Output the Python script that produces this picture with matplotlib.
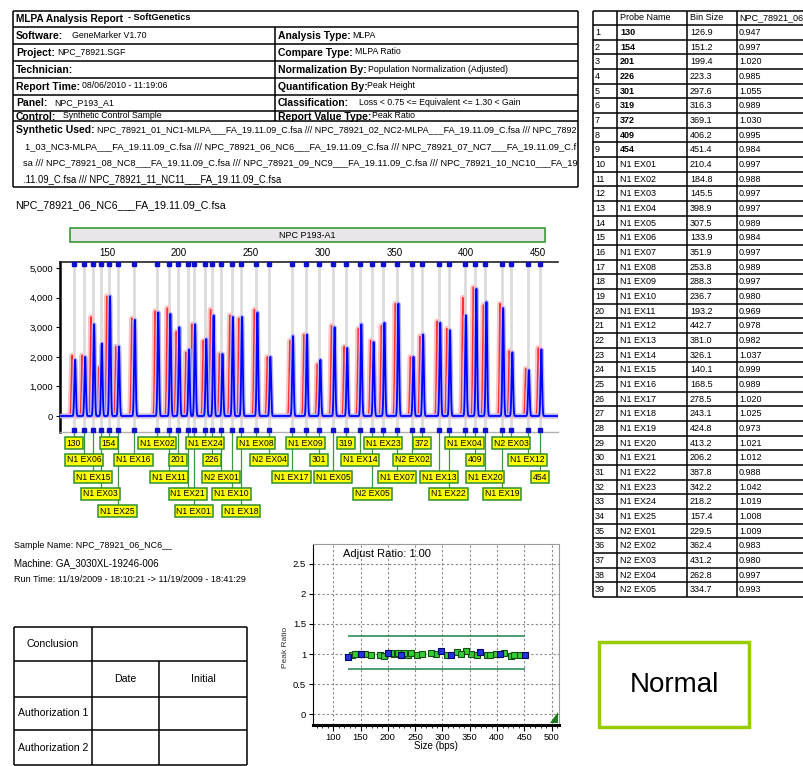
import numpy as np
import matplotlib
matplotlib.use("Agg")
import matplotlib.pyplot as plt
from matplotlib import font_manager, transforms, patheffects
from matplotlib.patches import Rectangle, Polygon

# ---------------- data ----------------
probe_names = ['130', '154', '201', '226', '301', '319', '372', '409', '454',
               'N1 EX01', 'N1 EX02', 'N1 EX03', 'N1 EX04', 'N1 EX05', 'N1 EX06',
               'N1 EX07', 'N1 EX08', 'N1 EX09', 'N1 EX10', 'N1 EX11', 'N1 EX12',
               'N1 EX13', 'N1 EX14', 'N1 EX15', 'N1 EX16', 'N1 EX17', 'N1 EX18',
               'N1 EX19', 'N1 EX20', 'N1 EX21', 'N1 EX22', 'N1 EX23', 'N1 EX24',
               'N1 EX25', 'N2 EX01', 'N2 EX02', 'N2 EX03', 'N2 EX04', 'N2 EX05']
bin_sizes = [126.9, 151.2, 199.4, 223.3, 297.6, 316.3, 369.1, 406.2, 451.4,
             210.4, 184.8, 145.5, 398.9, 307.5, 133.9, 351.9, 253.8, 288.3, 236.7,
             193.2, 442.7, 381.0, 326.1, 140.1, 168.5, 278.5, 243.1, 424.8, 413.2,
             206.2, 387.8, 342.2, 218.2, 157.4, 229.5, 362.4, 431.2, 262.8, 334.7]
peak_ratios = [0.947, 0.997, 1.020, 0.985, 1.055, 0.989, 1.030, 0.995, 0.984,
               0.997, 0.988, 0.997, 0.997, 0.989, 0.984, 0.997, 0.989, 0.997, 0.980,
               0.969, 0.978, 0.982, 1.037, 0.999, 0.989, 1.020, 1.025, 0.973, 1.021,
               1.012, 0.988, 1.042, 1.019, 1.008, 1.009, 0.983, 0.980, 0.997, 0.993]
# sample (blue) and synthetic control (red) peak heights, RFU
sample_heights = [1900, 4050, 3000, 3400, 1900, 2300, 2750, 4300, 2250,
                  3100, 3500, 2450, 3400, 3000, 2000, 3800, 3500, 2750, 3350,
                  3450, 1550, 3150, 3100, 3100, 3250, 2700, 3350, 3650, 3850,
                  2250, 2900, 3150, 2600, 2350, 2100, 2000, 2150, 2000, 2500]
control_heights = [2050, 4050, 2850, 3600, 1750, 2350, 2700, 4350, 2300,
                   3100, 3550, 1650, 4000, 3050, 2050, 3800, 3600, 2750, 3400,
                   3650, 1600, 3200, 2950, 3350, 3300, 2550, 3300, 3800, 3750,
                   2150, 2950, 3050, 2550, 2350, 2100, 2000, 2200, 2000, 2550]
label_rows = [0, 0, 1, 1, 1, 0, 0, 1, 2,
              4, 0, 3, 0, 2, 1, 2, 0, 0, 3, 2, 1, 2, 1, 2, 1, 2, 4, 3, 2, 3, 3, 0, 0, 4,
              2, 1, 0, 1, 3]
is_reference = [n.isdigit() for n in probe_names]

eph_yticks = [0, 1000, 2000, 3000, 4000, 5000]
eph_xticks = [150, 200, 250, 300, 350, 400, 450]
ratio_xticks = [100, 150, 200, 250, 300, 350, 400, 450, 500]
ratio_yticks = [0, 0.5, 1, 1.5, 2, 2.5]
gain_limit, loss_limit = 1.30, 0.75

# ---------------- fonts ----------------
installed = {f.name for f in font_manager.fontManager.ttflist}
NARROW = 'Liberation Sans Narrow' if 'Liberation Sans Narrow' in installed else 'Liberation Sans'
SANS = 'Liberation Sans'
plt.rcParams['font.family'] = [SANS, 'DejaVu Sans']

fig = plt.figure(figsize=(8.04, 7.66), dpi=100)
ax0 = fig.add_axes([0, 0, 1, 1])
ax0.set_xlim(0, 804)
ax0.set_ylim(766, 0)
ax0.axis('off')
R = fig.canvas.get_renderer()


def put(x, y, s, size=7, width=None, family=None, weight='normal', ha='left',
        va='center', ax=None, **kw):
    ax = ax or ax0
    t = ax.text(x, y, s, fontsize=size, family=family or NARROW, fontweight=weight,
                ha=ha, va=va, **kw)
    if width:
        w = t.get_window_extent(R).width
        if w > 0:
            t.set_fontsize(size * width / w)
    return t


def hl(y, x0, x1, lw=1.0, color='k'):
    ax0.plot([x0, x1], [y, y], color=color, lw=lw, solid_capstyle='butt')


def vl(x, y0, y1, lw=1.0, color='k'):
    ax0.plot([x, x], [y0, y1], color=color, lw=lw, solid_capstyle='butt')


def fx(px):
    return px / 804.0


def fy(py):
    return 1 - py / 766.0


# ---------------- header table ----------------
HX0, HXM, HX1 = 13, 275, 578
hlines = [11, 27, 44, 61, 78, 95, 111, 121, 187]
for y in hlines:
    hl(y, HX0, HX1, lw=1.1)
vl(HX0, 11, 187, lw=1.1)
vl(HX1, 11, 187, lw=1.1)
vl(HXM, 27, 121, lw=1.1)

put(16, 19, 'MLPA Analysis Report', 7.5, width=107, weight='bold')
put(128, 18, '- SoftGenetics', 7, width=62, weight='bold')

lab = put(278, 70, 'Normalization By:', 7, width=88, weight='bold')
LAB_FS = lab.get_fontsize()
val = put(368, 70, 'Population Normalization (Adjusted)', 7, width=140)
VAL_FS = val.get_fontsize()

left_rows = [('Software:', 'GeneMarker V1.70', 72), ('Project:', 'NPC_78921.SGF', 57),
             ('Technician:', '', 0), ('Report Time:', '08/06/2010 - 11:19:06', 82),
             ('Panel:', 'NPC_P193_A1', 54), ('Control:', 'Synthetic Control Sample', 63)]
right_rows = [('Analysis Type:', 'MLPA', 352), ('Compare Type:', 'MLPA Ratio', 355),
              (None, None, 0), ('Quantification By:', 'Peak Height', 367),
              ('Classification:', 'Loss < 0.75 <= Equivalent <= 1.30 < Gain', 359),
              ('Report Value Type:', 'Peak Ratio', 372)]
for i in range(6):
    yc = (hlines[i + 1] + hlines[i + 2]) / 2 + 0.5
    if i == 5:
        yc = 117
    l, v, xv = left_rows[i]
    put(16, yc, l, LAB_FS, weight='bold')
    if v:
        put(xv, yc - 1, v, VAL_FS)
    l, v, xv = right_rows[i]
    if l:
        put(278, yc, l, LAB_FS, weight='bold')
        put(xv, yc - 1, v, VAL_FS)

put(16, 130, 'Synthetic Used:', LAB_FS, weight='bold')
syn_lines = ['NPC_78921_01_NC1-MLPA___FA_19.11.09_C.fsa /// NPC_78921_02_NC2-MLPA___FA_19.11.09_C.fsa /// NPC_7892',
             '1_03_NC3-MLPA___FA_19.11.09_C.fsa /// NPC_78921_06_NC6___FA_19.11.09_C.fsa /// NPC_78921_07_NC7___FA_19.11.09_C.f',
             'sa /// NPC_78921_08_NC8___FA_19.11.09_C.fsa /// NPC_78921_09_NC9___FA_19.11.09_C.fsa /// NPC_78921_10_NC10___FA_19',
             '.11.09_C.fsa /// NPC_78921_11_NC11___FA_19.11.09_C.fsa']
syn_geom = [(97, 130, 478), (25, 147, 550), (23, 163, 552), (23, 179, 258)]
for s, (x, y, w) in zip(syn_lines, syn_geom):
    put(x, y, s, 7, width=w)

# ---------------- right probe table ----------------
TX = [593, 617, 687, 737]
TT, TH, TB = 11, 25, 597
rh = (TB - TH) / len(probe_names)
hl(TT, TX[0], 804, lw=1.1)
hl(TH, TX[0], 804, lw=1.1)
for i in range(len(probe_names)):
    hl(TH + (i + 1) * rh, TX[0], 804, lw=1.1)
for x in TX:
    vl(x, TT, TB, lw=1.1)
TFS = 6.5
put(620, 18, 'Probe Name', TFS)
put(690, 18, 'Bin Size', TFS)
put(739, 18, 'NPC_78921_06', TFS)
for i, (n, b, r) in enumerate(zip(probe_names, bin_sizes, peak_ratios)):
    yc = TH + (i + 0.5) * rh
    put(595, yc, str(i + 1), TFS)
    put(620, yc, n, TFS, weight='bold' if n.isdigit() else 'normal')
    put(690, yc, f'{b:.1f}', TFS)
    put(739, yc, f'{r:.3f}', TFS)

# ---------------- electropherogram ----------------
put(15, 205, 'NPC_78921_06_NC6___FA_19.11.09_C.fsa', 8, width=212, family=SANS)
ax0.add_patch(Rectangle((70, 228), 475, 14, fc='#e8e6e8', ec='#3a9a3a', lw=1.2))
put(307, 235, 'NPC P193-A1', 6.5, family=SANS, ha='center')

EL, ER, ET, EB = 60, 558, 262, 432
ax1 = fig.add_axes([fx(EL), fy(EB), (ER - EL) / 804, (EB - ET) / 766])
ax1.set_xlim(117.3, 463.9)
ax1.set_ylim(-540, 5203)
ax1.vlines(bin_sizes, -540, 5203, color='#dcdcdc', lw=2.0, zorder=0)
xs = np.linspace(117.3, 463.9, 9000)
sig = 0.5
red = np.zeros_like(xs)
blue = np.zeros_like(xs)
for b, hs, hc in zip(bin_sizes, sample_heights, control_heights):
    red += hc * np.exp(-0.5 * ((xs - (b - 1.2)) / sig) ** 2)
    blue += hs * np.exp(-0.5 * ((xs - (b + 0.9)) / sig) ** 2)
ax1.plot(xs, red, color='#ff3030', lw=1.0, zorder=2,
         path_effects=[patheffects.Stroke(linewidth=4, foreground='#ffc4c4'), patheffects.Normal()])
ax1.plot(xs, blue, color='#0000ff', lw=1.3, zorder=3,
         path_effects=[patheffects.Stroke(linewidth=3.2, foreground='#b8b8ff'), patheffects.Normal()])
trx = transforms.blended_transform_factory(ax1.transData, ax1.transAxes)
ax1.plot(bin_sizes, [0.988] * len(bin_sizes), 's', ms=3.4, color='#1010d0', transform=trx,
         clip_on=False, zorder=5)
ax1.plot(bin_sizes, [0.012] * len(bin_sizes), 's', ms=3.4, color='#1010d0', transform=trx,
         clip_on=False, zorder=5)
ax1.set_yticks(eph_yticks)
ax1.set_yticklabels([f'{v:,}' for v in eph_yticks], fontsize=6.8, family=SANS)
ax1.set_xticks(eph_xticks)
ax1.xaxis.set_ticks_position('top')
ax1.set_xticklabels([str(v) for v in eph_xticks], fontsize=7, family=SANS)
ax1.tick_params(axis='x', length=0, pad=3)
ax1.tick_params(axis='y', length=3, width=0.8, pad=2)
ax1.spines['right'].set_visible(False)
ax1.spines['left'].set_linewidth(1.8)
ax1.spines['top'].set_linewidth(1.2)
ax1.spines['top'].set_color('#222222')
ax1.spines['bottom'].set_color('#b0b0b0')
ax1.spines['bottom'].set_linewidth(1.0)
ax1.set_facecolor('white')

# probe labels below
trl = transforms.blended_transform_factory(ax1.transData, ax0.transData)
row_y = [443, 460, 477, 494, 511]
for n, b, r in zip(probe_names, bin_sizes, label_rows):
    yc = row_y[r]
    ax0.plot([b, b], [EB, yc - 6], color='#3c963c', lw=0.9, transform=trl, clip_on=False, zorder=1)
    ax0.text(b, yc, n, transform=trl, ha='center', va='center', fontsize=6.2, family=NARROW,
             zorder=3,
             bbox=dict(boxstyle='square,pad=0.22', fc='#ffff00', ec='#2f8f2f', lw=1.1))

# ---------------- sample info ----------------
put(14, 546, 'Sample Name: NPC_78921_06_NC6__', 7, width=156)
put(14, 563, 'Machine: GA_3030XL-19246-006', 7, width=145)
put(14, 580, 'Run Time: 11/19/2009 - 18:10:21 -> 11/19/2009 - 18:41:29', 7, width=233)

# ---------------- conclusion table ----------------
CX = [14, 92, 159, 247]
CY = [627, 661, 697, 730, 765]
for y in CY:
    hl(y, CX[0], CX[3], lw=1.1)
vl(CX[0], CY[0], CY[4], lw=1.1)
vl(CX[3], CY[0], CY[4], lw=1.1)
vl(CX[1], CY[0], CY[4], lw=1.1)
vl(CX[2], CY[1], CY[4], lw=1.1)
cf = put((CX[0] + CX[1]) / 2, 713, 'Authorization 1', 8.5, width=70, ha='center').get_fontsize()
put((CX[0] + CX[1]) / 2, 644, 'Conclusion', cf, ha='center')
put((CX[1] + CX[2]) / 2, 679, 'Date', cf, ha='center')
put((CX[2] + CX[3]) / 2, 679, 'Initial', cf, ha='center')
put((CX[0] + CX[1]) / 2, 748, 'Authorization 2', cf, ha='center')

# ---------------- ratio plot ----------------
RL, RR, RT, RB = 313, 559, 544, 725
ax2 = fig.add_axes([fx(RL), fy(RB), (RR - RL) / 804, (RB - RT) / 766])
ax2.set_xlim(62.8, 513.4)
ax2.set_ylim(-0.183, 2.833)
ax2.set_xticks(ratio_xticks)
ax2.set_yticks(ratio_yticks)
ax2.set_xticklabels([str(v) for v in ratio_xticks], fontsize=6.8, family=SANS)
ax2.set_yticklabels([f'{v:g}' for v in ratio_yticks], fontsize=6.8, family=SANS)
ax2.set_xticks(np.arange(70, 511, 10), minor=True)
ax2.tick_params(axis='x', which='major', length=4, width=0.8, pad=2)
ax2.tick_params(axis='x', which='minor', length=2.5, width=0.6)
ax2.tick_params(axis='y', length=3, width=0.8, pad=2)
ax2.grid(True, which='major', color='#8a8a8a', lw=0.8, linestyle=(0, (2, 2)))
ax2.set_axisbelow(True)
ax2.spines['bottom'].set_linewidth(2.2)
ax2.spines['left'].set_linewidth(0.8)
ax2.spines['top'].set_color('#9a9a9a')
ax2.spines['right'].set_color('#9a9a9a')
ax2.hlines([gain_limit, loss_limit], min(bin_sizes), max(bin_sizes), color='#2e8b57', lw=1.2, zorder=2)
bx = np.array(bin_sizes)
br = np.array(peak_ratios)
ref = np.array(is_reference)
ax2.plot(bx[~ref], br[~ref], 's', ms=3.8, mfc='#33cc33', mec='#144d14', mew=0.8, zorder=3)
ax2.plot(bx[ref], br[ref], 's', ms=3.8, mfc='#2233dd', mec='#000066', mew=0.8, zorder=4)
ax2.text(0.12, 0.945, 'Adjust Ratio: 1.00', transform=ax2.transAxes, fontsize=8, family=NARROW,
         va='center', ha='left')
ax2.add_patch(Polygon([(0.963, 0.011), (0.996, 0.011), (0.996, 0.07)], closed=True,
                      transform=ax2.transAxes, fc='#1f7a1f', ec='none', zorder=5))
ax2.set_xlabel('Size (bps)', fontsize=7, family=SANS, labelpad=-1)
put(286, 647, 'Peak Ratio', 6, family=SANS, ha='center', rotation=90, color='#333333')

# ---------------- Normal box ----------------
ax0.add_patch(Rectangle((599, 642), 150, 85, fc='white', ec='#99cc00', lw=2.5))
put(674, 685, 'Normal', 20, family=SANS, ha='center')

fig.savefig('out.png', dpi=100)
